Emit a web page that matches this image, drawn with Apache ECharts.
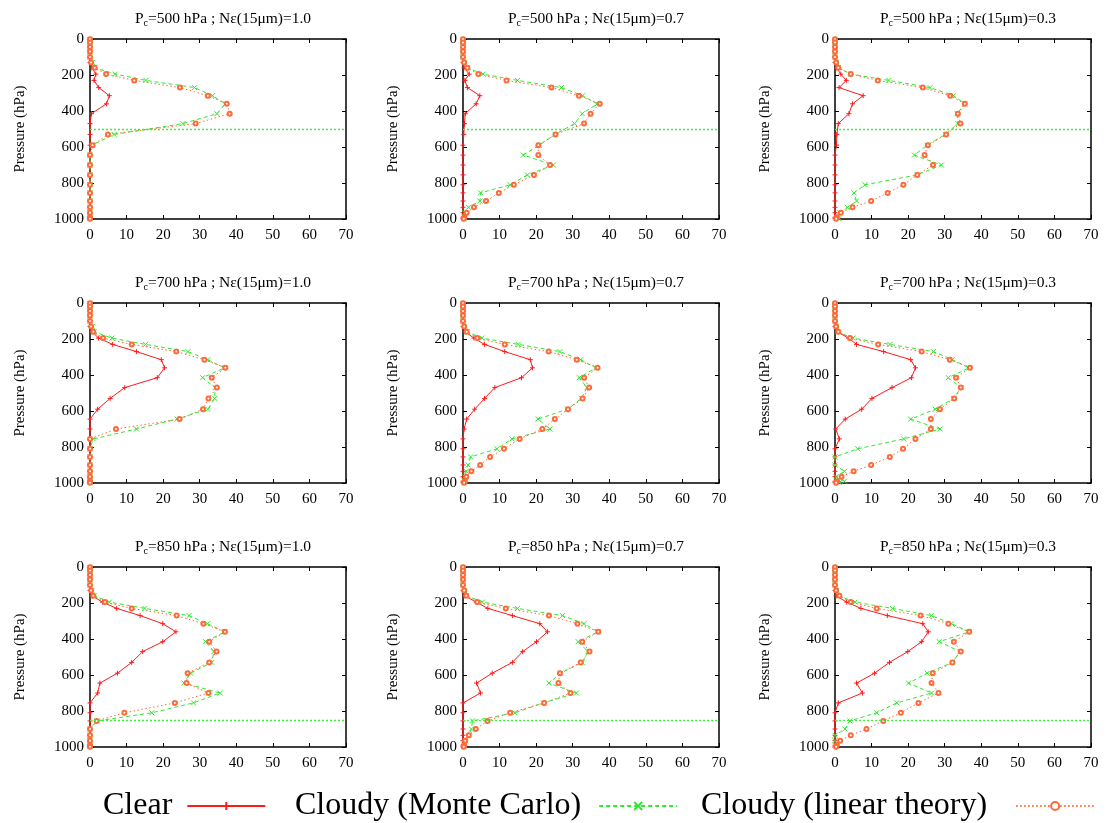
<!DOCTYPE html>
<html>
<head>
<meta charset="utf-8">
<script src="https://cdn.jsdelivr.net/npm/echarts@6/dist/echarts.min.js"></script>
<style>
html,body{margin:0;padding:0;background:#fff;}
#main{width:1106px;height:823px;}
</style>
</head>
<body>
<div id="main"></div>
<script>
// pressure levels (hPa) shared by every profile
var PRES = [2, 20, 45, 70, 100, 130, 160, 195, 230, 270, 315, 360, 415, 470, 530, 590, 645, 700, 755, 810, 855, 900, 935, 965, 990, 998];

var TITLES = [
  ['500', '1.0'], ['500', '0.7'], ['500', '0.3'],
  ['700', '1.0'], ['700', '0.7'], ['700', '0.3'],
  ['850', '1.0'], ['850', '0.7'], ['850', '0.3']
];
// cloud level line per row (none drawn on the 700 hPa row)
var PC_LINE = [500, null, 850];

// Clear
var clear500_10 = [0,0,0,0,0, 0, 0.5, 1.6, 1.1, 2.4, 5.3, 4.5, 0.4, 0, 0, 0, 0,0,0,0,0,0,0,0,0,0];
var clear500_07 = [0,0,0,0,0, 0, 0.3, 1.7, 0.5, 1.2, 4.6, 3.6, 0.6, 0.4, 0.2, 0, 0,0,0,0,0,0,0,0,0,0];
var clear500_03 = [0,0,0,0,0, 0, 0.4, 1.6, 3.1, 1.1, 7.7, 4.8, 3.8, 0.9, 0.5, 0.4, 0,0,0,0,0,0,0,0,0,0];
var clear700_10 = [0,0,0,0,0, 0, 0.7, 2.3, 6.2, 12.7, 19.5, 20.4, 18.4, 9.5, 5.5, 2.1, 0,0,0,0,0,0,0,0,0,0];
var clear700_07 = [0,0,0,0,0, 0, 0.6, 3.0, 5.9, 11.4, 18.4, 19.0, 16.0, 8.7, 5.9, 3.2, 1.0, 0.3, 0,0,0,0,0,0,0,0];
var clear700_03 = [0,0,0,0,0, 0, 0.6, 3.7, 5.9, 13.3, 20.7, 22.0, 20.9, 15.6, 10.1, 7.3, 2.8, 0.2, 1.2, 0,0,0,0,0,0,0];
var clear850_10 = [0,0,0,0,0, 0, 0.6, 3.4, 7.3, 13.7, 19.9, 23.5, 19.9, 14.4, 11.4, 7.5, 2.7, 2.1, 0,0,0,0,0,0,0,0];
var clear850_07 = [0,0,0,0,0, 0, 0.5, 3.6, 6.8, 13.5, 21.0, 23.1, 20.1, 16.3, 13.5, 8.0, 3.7, 4.8, 0,0,0,0,0,0,0,0];
var clear850_03 = [0,0,0,0,0, 0, 0.3, 3.2, 7.1, 14.3, 24.0, 25.5, 23.7, 19.9, 14.9, 10.8, 5.9, 7.5, 0.9, 0,0,0,0,0,0,0];

// Cloudy (Monte Carlo)
var mc500_10 = [0,0,0,0,0, 0.7, 1.3, 6.9, 15.3, 28.6, 33.5, 37.0, 34.7, 25.4, 6.6, 0.5, 0,0,0,0,0,0,0,0,0,0];
var mc500_07 = [0,0,0,0,0, 0.5, 1.2, 5.5, 14.9, 26.9, 32.7, 36.7, 32.6, 30.5, 25.2, 20.8, 16.5, 24.7, 17.6, 12.9, 4.8, 4.6, 1.5, 0.5, 0.3, 0.3];
var mc500_03 = [0,0,0,0,0, 0.4, 0.9, 4.3, 14.7, 26.0, 32.4, 35.5, 33.4, 33.6, 30.2, 25.2, 21.7, 29.1, 22.5, 8.2, 5.2, 5.9, 3.4, 1.3, 0.9, 1.1];
var mc700_10 = [0,0,0,0,0, 0.7, 1.1, 6.0, 15.2, 26.8, 32.2, 36.8, 30.8, 34.2, 34.1, 32.2, 23.8, 12.7, 0.9, 0,0,0,0,0,0,0];
var mc700_07 = [0,0,0,0,0, 0.5, 1.1, 5.2, 15.1, 26.5, 32.2, 36.3, 31.8, 33.9, 32.4, 28.6, 20.5, 23.8, 13.4, 9.3, 2.1, 1.4, 0.9, 0.5, 0.4, 0.3];
var mc700_03 = [0,0,0,0,0, 0.4, 0.7, 4.9, 15.0, 26.9, 32.1, 36.7, 31.0, 34.5, 32.4, 27.4, 20.7, 28.7, 18.8, 6.2, 0, 0, 2.6, 0.3, 2.6, 1.2];
var mc850_10 = [0,0,0,0,0, 0.5, 1.2, 5.3, 15.0, 27.1, 32.1, 36.9, 31.6, 33.9, 33.3, 27.5, 25.7, 35.6, 28.3, 16.9, 2.0, 0, 0,0,0,0];
var mc850_07 = [0,0,0,0,0, 0.4, 1.0, 5.3, 14.9, 27.2, 33.1, 36.9, 31.5, 34.2, 32.6, 26.7, 23.5, 31.0, 22.0, 14.2, 2.6, 2.3, 1.6, 0.7, 0.3, 0.2];
var mc850_03 = [0,0,0,0,0, 0.5, 1.1, 5.5, 15.7, 26.4, 31.9, 36.7, 28.5, 34.2, 32.1, 25.2, 20.1, 26.4, 16.9, 11.4, 4.1, 2.7, 0, 0, 0, 0.5];

// Cloudy (linear theory)
var lin500_10 = [0,0,0,0,0, 0.3, 1.3, 4.4, 12.1, 24.6, 32.2, 37.4, 38.2, 28.9, 4.9, 0.7, 0,0,0,0,0,0,0,0,0,0];
var lin500_07 = [0,0,0,0,0, 0.3, 1.2, 4.2, 11.9, 24.2, 31.7, 37.4, 34.9, 33.1, 25.3, 20.6, 20.6, 23.8, 19.4, 13.9, 9.8, 6.3, 3.0, 1.0, 0.4, 0.2];
var lin500_03 = [0,0,0,0,0, 0.3, 0.9, 4.3, 11.7, 24.0, 31.5, 35.5, 33.6, 34.3, 30.4, 25.4, 24.5, 26.8, 22.5, 18.7, 14.4, 9.9, 4.8, 1.6, 0.5, 0.3];
var lin700_10 = [0,0,0,0,0, 0.3, 0.9, 3.6, 11.4, 23.6, 31.3, 37.0, 33.3, 34.7, 32.4, 30.9, 24.5, 7.1, 0, 0,0,0,0,0,0,0];
var lin700_07 = [0,0,0,0,0, 0.3, 1.0, 3.9, 11.4, 23.4, 31.1, 36.8, 33.1, 34.5, 32.7, 28.7, 25.1, 21.7, 15.5, 11.2, 7.4, 4.7, 2.3, 0.9, 0.5, 0.3];
var lin700_03 = [0,0,0,0,0, 0.3, 0.9, 4.1, 11.8, 23.7, 31.4, 36.9, 33.1, 34.4, 32.6, 28.7, 26.2, 26.2, 22.0, 18.6, 15.0, 9.9, 5.1, 1.8, 0.6, 0.3];
var lin850_10 = [0,0,0,0,0, 0.3, 0.9, 4.1, 11.4, 23.7, 31.0, 36.9, 32.6, 34.6, 32.6, 26.7, 26.4, 32.4, 23.2, 9.4, 1.8, 0, 0,0,0,0];
var lin850_07 = [0,0,0,0,0, 0.3, 0.9, 3.9, 11.7, 23.5, 31.3, 37.0, 32.6, 34.6, 32.2, 26.5, 26.1, 29.4, 22.2, 12.9, 6.7, 3.5, 1.6, 0.6, 0.3, 0.2];
var lin850_03 = [0,0,0,0,0, 0.3, 1.2, 4.3, 11.4, 23.4, 31.0, 36.7, 32.5, 34.4, 32.1, 26.7, 26.4, 28.3, 22.8, 18.0, 13.2, 8.6, 4.3, 1.4, 0.5, 0.3];

var CLEAR = [clear500_10, clear500_07, clear500_03, clear700_10, clear700_07, clear700_03, clear850_10, clear850_07, clear850_03];
var MC = [mc500_10, mc500_07, mc500_03, mc700_10, mc700_07, mc700_03, mc850_10, mc850_07, mc850_03];
var LIN = [lin500_10, lin500_07, lin500_03, lin700_10, lin700_07, lin700_03, lin850_10, lin850_07, lin850_03];

var X_TICKS = [0, 10, 20, 30, 40, 50, 60, 70];
var Y_TICKS = [0, 200, 400, 600, 800, 1000];

var FONT = 'Liberation Serif';
var RED = '#ff1a1a', GREEN = '#2fe82f', ORANGE = '#ff6a3a';
var LEFTS = [90, 463, 835];
var TOPS = [39, 303, 567];
var W = 256, H = 180;

function pairs(vals) {
  return PRES.map(function (p, i) { return [vals[i], p]; });
}

var grids = [], xAxes = [], yAxes = [], series = [], titles = [];
var frame = {show: true, onZero: false, lineStyle: {color: '#000', width: 1.5}};
var tick = {show: true, inside: true, length: 4, lineStyle: {color: '#000', width: 1}};

for (var i = 0; i < 9; i++) {
  var r = Math.floor(i / 3), c = i % 3;
  grids.push({left: LEFTS[c], top: TOPS[r], width: W, height: H});
  titles.push({
    text: '{a|P}{b|c}{a|=' + TITLES[i][0] + ' hPa ; Nε(15μm)=' + TITLES[i][1] + '}',
    left: LEFTS[c] + W / 2, top: TOPS[r] - 34, textAlign: 'center',
    textStyle: {fontWeight: 'normal', fontFamily: FONT, rich: {
      a: {fontFamily: FONT, fontSize: 15.5, fontWeight: 'normal', color: '#000'},
      b: {fontFamily: FONT, fontSize: 10, fontWeight: 'normal', color: '#000', padding: [8, 0, 0, 0]}
    }}
  });
  var xBase = {gridIndex: i, type: 'value', min: X_TICKS[0], max: X_TICKS[X_TICKS.length - 1], interval: 10,
    axisLine: frame, axisTick: tick, splitLine: {show: false}};
  xAxes.push(Object.assign({}, xBase, {position: 'bottom',
    axisLabel: {fontFamily: FONT, fontSize: 15, color: '#000', margin: 9}}));
  xAxes.push(Object.assign({}, xBase, {position: 'top', axisLabel: {show: false}}));
  var yBase = {gridIndex: i, type: 'value', inverse: true, min: Y_TICKS[0], max: Y_TICKS[Y_TICKS.length - 1], interval: 200,
    axisLine: frame, axisTick: tick, splitLine: {show: false}};
  yAxes.push(Object.assign({}, yBase, {position: 'left',
    name: 'Pressure (hPa)', nameLocation: 'middle', nameGap: 62,
    nameTextStyle: {fontFamily: FONT, fontSize: 15, color: '#000'},
    axisLabel: {fontFamily: FONT, fontSize: 15, color: '#000', margin: 6,
      formatter: function (v) { return String(v); }}}));
  yAxes.push(Object.assign({}, yBase, {position: 'right', axisLabel: {show: false}}));

  var xi = i * 2, yi = i * 2;
  series.push({
    name: 'Clear', type: 'line', xAxisIndex: xi, yAxisIndex: yi,
    data: pairs(CLEAR[i]),
    symbol: 'path://M5,0V10M0,5H10', symbolSize: 5,
    itemStyle: {color: RED, borderColor: RED, borderWidth: 1},
    lineStyle: {color: RED, width: 1, type: 'solid'}
  });
  var mcSeries = {
    name: 'Cloudy (Monte Carlo)', type: 'line', xAxisIndex: xi, yAxisIndex: yi,
    data: pairs(MC[i]),
    symbol: 'path://M0,0L10,10M10,0L0,10', symbolSize: 5,
    itemStyle: {color: GREEN, borderColor: GREEN, borderWidth: 1},
    lineStyle: {color: GREEN, width: 1, type: [4, 3]}
  };
  if (PC_LINE[r] !== null) {
    mcSeries.markLine = {
      silent: true, symbol: ['none', 'none'], label: {show: false},
      lineStyle: {color: '#3cf03c', width: 1.3, type: [2, 2], opacity: 1},
      emphasis: {disabled: true},
      data: [{yAxis: PC_LINE[r]}]
    };
  }
  series.push(mcSeries);
  series.push({
    name: 'Cloudy (linear theory)', type: 'line', xAxisIndex: xi, yAxisIndex: yi,
    data: pairs(LIN[i]),
    symbol: 'emptyCircle', symbolSize: 4,
    itemStyle: {color: ORANGE, borderColor: ORANGE, borderWidth: 1},
    lineStyle: {color: ORANGE, width: 1, type: [1.5, 2.5]}
  });
}

function legendItem(name, left, gap) {
  return {
    data: [name], left: left, top: 785,
    orient: 'horizontal', align: 'right', itemWidth: 78, itemHeight: 10, itemGap: 0,
    selectedMode: false,
    lineStyle: {width: 2},
    textStyle: {fontFamily: FONT, fontSize: 32, color: '#000', padding: [0, gap, 0, 0]}
  };
}

var option = {
  animation: false,
  backgroundColor: '#fff',
  title: titles,
  grid: grids,
  xAxis: xAxes,
  yAxis: yAxes,
  legend: [
    legendItem('Clear', 98, 10),
    legendItem('Cloudy (Monte Carlo)', 290, 13),
    legendItem('Cloudy (linear theory)', 696, 24)
  ],
  series: series
};

var myChart = echarts.init(document.getElementById('main'));
myChart.setOption(option);
</script>
</body>
</html>
